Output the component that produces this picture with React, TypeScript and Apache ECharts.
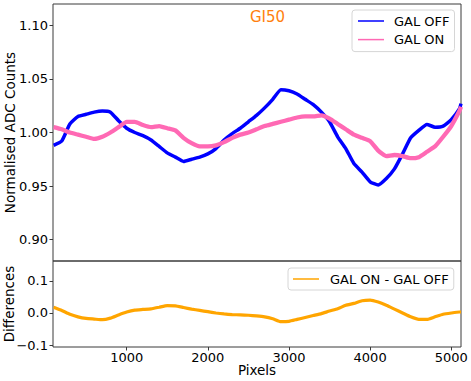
import React, { useEffect, useRef } from "react";
import * as echarts from "echarts";

const pixels = [
  100, 200, 300, 400, 500, 600, 700, 800, 900, 1000,
  1100, 1200, 1300, 1400, 1500, 1600, 1700, 1800, 1900, 2000,
  2100, 2200, 2300, 2400, 2500, 2600, 2700, 2800, 2900, 3000,
  3100, 3200, 3300, 3400, 3500, 3600, 3700, 3800, 3900, 4000,
  4100, 4200, 4300, 4400, 4500, 4600, 4700, 4800, 4900, 5000,
  5100, 5120,
];

const galOff = [
  0.988, 0.992, 1.008, 1.015, 1.017, 1.019, 1.020, 1.019, 1.011, 1.004,
  1.000, 0.997, 0.993, 0.987, 0.981, 0.977, 0.973, 0.975, 0.977, 0.980,
  0.985, 0.993, 0.999, 1.004, 1.010, 1.016, 1.023, 1.031, 1.040, 1.039,
  1.036, 1.031, 1.026, 1.019, 1.010, 0.996, 0.985, 0.971, 0.963, 0.954,
  0.951, 0.957, 0.966, 0.980, 0.995, 1.002, 1.0075, 1.005, 1.006, 1.012,
  1.022, 1.027,
];

const galOn = [
  1.005, 1.003, 1.000, 0.998, 0.996, 0.994, 0.996, 1.000, 1.005, 1.010,
  1.010, 1.007, 1.005, 1.006, 1.004, 1.002, 0.995, 0.990, 0.987, 0.987,
  0.988, 0.991, 0.995, 0.998, 1.000, 1.003, 1.006, 1.008, 1.010, 1.012,
  1.014, 1.015, 1.015, 1.016, 1.013, 1.008, 1.003, 0.998, 0.995, 0.992,
  0.983, 0.978, 0.979, 0.978, 0.976, 0.977, 0.982, 0.987, 0.996, 1.006,
  1.020, 1.024,
];

const differences = [
  0.018, 0.008, -0.004, -0.012, -0.017, -0.019, -0.021, -0.016, -0.006, 0.003,
  0.009, 0.011, 0.013, 0.018, 0.023, 0.022, 0.017, 0.012, 0.008, 0.004,
  0.000, -0.003, -0.005, -0.006, -0.007, -0.009, -0.012, -0.018, -0.027, -0.026,
  -0.020, -0.014, -0.008, -0.002, 0.006, 0.013, 0.024, 0.030, 0.038, 0.040,
  0.034, 0.024, 0.012, 0.000, -0.012, -0.020, -0.020, -0.012, -0.004, 0.000,
  0.003, 0.003,
];

const xTicks = [1000, 2000, 3000, 4000, 5000];
const yTopTicks = [0.9, 0.95, 1.0, 1.05, 1.1];
const yBottomTicks = [-0.1, 0.0, 0.1];

const FONT = "DejaVu Sans";
const FRAME = "#3a3a3a";

const fmtMinus = (v: number, d: number) => {
  const s = Math.abs(v).toFixed(d);
  return v < -1e-9 ? "\u2212" + s : s;
};

export default function App() {
  const ref = useRef<HTMLDivElement>(null);

  useEffect(() => {
    if (!ref.current) return;
    const chart = echarts.init(ref.current, null, { renderer: "svg" });
    const pair = (ys: number[]) => pixels.map((x, i) => [x, ys[i]]);

    const gridBase = {
      show: true,
      borderColor: FRAME,
      borderWidth: 1,
      backgroundColor: "transparent",
      containLabel: false,
      outerBoundsMode: "none",
    };

    const option: any = {
      animation: false,
      backgroundColor: "#ffffff",
      textStyle: { fontFamily: FONT },
      title: {
        text: "GI50",
        left: 250,
        top: 9,
        padding: 0,
        textStyle: { color: "#ff7f0e", fontSize: 15, fontWeight: "normal", fontFamily: FONT },
      },
      grid: [
        { ...gridBase, left: 53, top: 4, width: 408, height: 257 },
        { ...gridBase, left: 53, top: 261, width: 408, height: 86 },
      ],
      legend: [
        {
          data: [
            { name: "GAL OFF", itemStyle: { color: "#0000ff" } },
            { name: "GAL ON", itemStyle: { color: "#ff69b4" } },
          ],
          orient: "vertical",
          left: 352,
          top: 10,
          icon: "rect",
          itemWidth: 26,
          itemHeight: 1.5,
          itemGap: 2.6,
          padding: [3, 5, 4, 6],
          backgroundColor: "rgba(255,255,255,0.8)",
          borderColor: "#d6d6d6",
          borderWidth: 1,
          borderRadius: 3,
          textStyle: { fontSize: 13, fontFamily: FONT, color: "#000", lineHeight: 16, padding: [0, 0, 0, 5] },
        },
        {
          data: [{ name: "GAL ON - GAL OFF", itemStyle: { color: "#ffa500" } }],
          left: 288,
          top: 268,
          icon: "rect",
          itemWidth: 26,
          itemHeight: 1.5,
          padding: [3, 5, 3, 5],
          backgroundColor: "rgba(255,255,255,0.8)",
          borderColor: "#d6d6d6",
          borderWidth: 1,
          borderRadius: 3,
          textStyle: { fontSize: 13, fontFamily: FONT, color: "#000", lineHeight: 16, padding: [0, 0, 0, 6] },
        },
      ],
      xAxis: [
        {
          type: "value",
          gridIndex: 0,
          min: 92,
          max: 5120,
          axisLine: { show: false, onZero: false },
          axisTick: { show: false },
          axisLabel: { show: false },
          splitLine: { show: false },
        },
        {
          type: "value",
          gridIndex: 1,
          min: 92,
          max: 5120,
          position: "bottom",
          name: "Pixels",
          nameLocation: "middle",
          nameGap: 15.5,
          nameMoveOverlap: false,
          nameTextStyle: { fontSize: 13.5, color: "#000", fontFamily: FONT },
          axisLine: { show: false, onZero: false },
          axisTick: { show: true, length: 3.5, customValues: xTicks, lineStyle: { color: FRAME, width: 1 } },
          axisLabel: { customValues: xTicks, fontSize: 13, color: "#000", margin: 4, fontFamily: FONT, hideOverlap: false, formatter: (v: number) => String(v) },
          splitLine: { show: false },
        },
      ],
      yAxis: [
        {
          type: "value",
          gridIndex: 0,
          min: 0.88,
          max: 1.12,
          name: "Normalised ADC Counts",
          nameLocation: "middle",
          nameGap: 36.5,
          nameMoveOverlap: false,
          nameTextStyle: { fontSize: 13.5, color: "#000", fontFamily: FONT },
          axisLine: { show: false, onZero: false },
          axisTick: { show: true, length: 3.5, customValues: yTopTicks, lineStyle: { color: FRAME, width: 1 } },
          axisLabel: { customValues: yTopTicks, fontSize: 13, color: "#000", margin: 5, fontFamily: FONT, formatter: (v: number) => fmtMinus(v, 2) },
          splitLine: { show: false },
        },
        {
          type: "value",
          gridIndex: 1,
          min: -0.106,
          max: 0.162,
          name: "Differences",
          nameLocation: "middle",
          nameGap: 37.5,
          nameMoveOverlap: false,
          nameTextStyle: { fontSize: 13.5, color: "#000", fontFamily: FONT },
          axisLine: { show: false, onZero: false },
          axisTick: { show: true, length: 3.5, customValues: yBottomTicks, lineStyle: { color: FRAME, width: 1 } },
          axisLabel: { customValues: yBottomTicks, fontSize: 13, color: "#000", margin: 5, fontFamily: FONT, formatter: (v: number) => fmtMinus(v, 1) },
          splitLine: { show: false },
        },
      ],
      series: [
        {
          name: "GAL OFF",
          type: "line",
          xAxisIndex: 0,
          yAxisIndex: 0,
          data: pair(galOff),
          showSymbol: false,
          symbol: "none",
          smooth: 0.15,
          color: "#0000ff",
          lineStyle: { color: "#0000ff", width: 3.5 },
          z: 2,
        },
        {
          name: "GAL ON",
          type: "line",
          xAxisIndex: 0,
          yAxisIndex: 0,
          data: pair(galOn),
          showSymbol: false,
          symbol: "none",
          smooth: 0.15,
          color: "#ff69b4",
          lineStyle: { color: "#ff69b4", width: 4.3 },
          z: 3,
        },
        {
          name: "GAL ON - GAL OFF",
          type: "line",
          xAxisIndex: 1,
          yAxisIndex: 1,
          data: pair(differences),
          showSymbol: false,
          symbol: "none",
          smooth: 0.15,
          color: "#ffa500",
          lineStyle: { color: "#ffa500", width: 3.2 },
          z: 2,
        },
      ],
    };

    chart.setOption(option);
    return () => chart.dispose();
  }, []);

  return (
    <div
      ref={ref}
      style={{ position: "fixed", left: 0, top: 0, width: 471, height: 381, background: "#fff" }}
    />
  );
}
